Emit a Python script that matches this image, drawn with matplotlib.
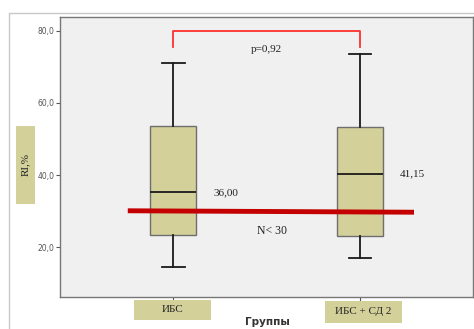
import matplotlib.pyplot as plt
from matplotlib.patches import Rectangle
from matplotlib.lines import Line2D

groups = ["ИБС", "ИБС + СД 2"]
whislo = [14.5, 17.1]
q1 = [23.3, 23.1]
med = [35.2, 40.3]
q3 = [53.7, 53.3]
whishi = [71.0, 73.5]
med_labels = ["36,00", "41,15"]
yticks = [20, 40, 60, 80]
ytick_labels = ["20,0", "40,0", "60,0", "80,0"]
threshold = [30.1, 29.7]
p_text = "p=0,92"
n_text = "N< 30"

tan = "#d3d09a"
serif = "Liberation Serif"

fig = plt.figure(figsize=(4.74, 3.29), dpi=100)
fig.patch.set_facecolor("white")
ax = fig.add_axes([0.1266, 0.0973, 0.8713, 0.8519])
ax.set_facecolor("#f0f0f0")

stats = []
for i in range(len(groups)):
    stats.append(dict(whislo=whislo[i], q1=q1[i], med=med[i], q3=q3[i],
                      whishi=whishi[i], fliers=[]))
ax.bxp(stats, positions=[1, 2], widths=0.247, capwidths=0.122,
       patch_artist=True, showfliers=False,
       boxprops=dict(facecolor=tan, edgecolor="#6e6e6e", linewidth=1.0),
       medianprops=dict(color="#1a1a1a", linewidth=1.3),
       whiskerprops=dict(color="#1a1a1a", linewidth=1.3),
       capprops=dict(color="#1a1a1a", linewidth=1.3))

ax.set_xlim(0.393, 2.605)
ax.set_ylim(6.2, 83.9)

# threshold line
ax.plot([0.756, 2.289], threshold, color="#c40000", linewidth=3.5,
        solid_capstyle="butt", zorder=5)

# significance bracket
ax.plot([1, 1, 2, 2], [75.6, 80, 80, 75.6], color="#ff3030", linewidth=1.3,
        solid_joinstyle="round", zorder=5)
ax.text(1.5, 74.8, p_text, ha="center", va="center", fontsize=8,
        family=serif, color="#222222")
ax.text(1.53, 24.6, n_text, ha="center", va="center", fontsize=8.5,
        family=serif, color="#222222")
for i, lab in enumerate(med_labels):
    ax.text(i + 1 + 0.213, med[i], lab, ha="left", va="center",
            fontsize=8, family=serif, color="#222222")

ax.set_yticks(yticks)
ax.set_yticklabels(ytick_labels, fontsize=5.5, color="#555555")
ax.set_xticks([1, 2])
ax.set_xticklabels(["", ""])
ax.tick_params(axis="both", direction="out", length=3, width=0.8,
               color="#555555", pad=1)
for s in ax.spines.values():
    s.set_color("#777777")
    s.set_linewidth(1.0)

W, H = 474, 329


def fig_rect(x0, y0, x1, y1):
    return Rectangle((x0 / W, 1 - y1 / H), (x1 - x0) / W, (y1 - y0) / H,
                     transform=fig.transFigure, facecolor=tan,
                     edgecolor="none", zorder=3)


# x category labels in tan boxes
boxes = [(134, 300, 211, 320), (325, 301, 402, 323)]
for (x0, y0, x1, y1), lab in zip(boxes, groups):
    fig.patches.append(fig_rect(x0, y0, x1, y1))
    fig.text((x0 + x1) / 2 / W, 1 - (y0 + y1) / 2 / H, lab, ha="center",
             va="center", fontsize=8, family=serif, color="#222222",
             zorder=4)

# y label in tan box
fig.patches.append(fig_rect(16, 125.7, 35, 203.7))
fig.text(25.7 / W, 1 - 164.7 / H, "RI,%", rotation=90, ha="center",
         va="center", fontsize=8, family=serif, color="#222222", zorder=4)

fig.text(267 / W, 1 - 322 / H, "Группы", ha="center", va="center",
         fontsize=7.5, fontweight="bold", color="#333333")

# outer light frame
fig.lines.append(Line2D([10 / W, 1], [1 - 13 / H, 1 - 13 / H],
                        transform=fig.transFigure, color="#c8c8c8", lw=1.0))
fig.lines.append(Line2D([9 / W, 9 / W], [1 - 13 / H, 0],
                        transform=fig.transFigure, color="#c8c8c8", lw=1.0))

fig.savefig("out.png", dpi=100)
